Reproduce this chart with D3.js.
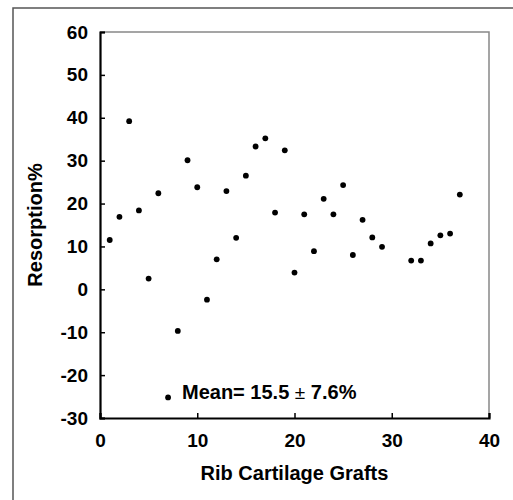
<!DOCTYPE html>
<html>
<head>
<meta charset="utf-8">
<script src="https://cdn.jsdelivr.net/npm/d3@7"></script>
<style>
  body { margin: 0; background: #fff; }
  text { font-family: "Liberation Sans", Arial, sans-serif; font-weight: bold; fill: #000; }
</style>
</head>
<body>
<div id="chart"></div>
<script>
// graft number / resorption %
const grafts = [1, 2, 3, 4, 5, 6, 7, 8, 9, 10, 11, 12, 13, 14, 15, 16, 17, 18, 19, 20,
                21, 22, 23, 24, 25, 26, 27, 28, 29, 32, 33, 34, 35, 36, 37];
const resorption = [11.5, 16.9, 39.2, 18.4, 2.5, 22.4, -25.2, -9.7, 30.1, 23.8, -2.4, 7.0, 22.9, 12.0, 26.5,
                    33.3, 35.2, 17.9, 32.4, 3.9, 17.5, 8.9, 21.1, 17.5, 24.3, 8.0, 16.2, 12.1, 9.9,
                    6.7, 6.7, 10.7, 12.6, 13.0, 22.1];
const xTicks = [0, 10, 20, 30, 40];
const yTicks = [60, 50, 40, 30, 20, 10, 0, -10, -20, -30];

const data = grafts.map((g, i) => ({x: g, y: resorption[i]}));

const width = 513, height = 500;
const margin = {top: 32, right: 24, bottom: 82, left: 100};

const svg = d3.select("#chart").append("svg")
    .attr("width", width)
    .attr("height", height);

// outer figure border (top + left only)
svg.append("path")
    .attr("d", `M13,${height}V8H${width}`)
    .style("fill", "none")
    .style("stroke", "#555")
    .style("stroke-width", 1.5);

const x = d3.scaleLinear()
    .domain([0, 40])
    .range([margin.left, width - margin.right]);

const y = d3.scaleLinear()
    .domain([-30, 60])
    .range([height - margin.bottom, margin.top]);

// top/right frame
svg.append("path")
    .attr("d", `M${x(0)},${y(60)}H${x(40)}V${y(-30)}`)
    .style("fill", "none")
    .style("stroke", "#888")
    .style("stroke-width", 1.5);

// Eixo X
const xAxis = d3.axisBottom(x).tickValues(xTicks).tickSize(-5).tickPadding(16).tickFormat(d => String(d));
const gx = svg.append("g")
    .attr("transform", `translate(0,${y(-30)})`)
    .call(xAxis);
gx.select(".domain").style("stroke-width", 2.2);
gx.selectAll(".tick line").style("stroke-width", 1.5);
gx.selectAll(".tick text").style("font-size", "19px");

// Eixo Y
const yAxis = d3.axisLeft(y).tickValues(yTicks).tickSize(-5).tickPadding(12).tickFormat(d => String(d));
const gy = svg.append("g")
    .attr("transform", `translate(${x(0)},0)`)
    .call(yAxis);
gy.select(".domain").style("stroke-width", 2.2);
gy.selectAll(".tick line").style("stroke-width", 1.5);
gy.selectAll(".tick text").style("font-size", "19px");

// labels
svg.append("text")
    .attr("x", (x(0) + x(40)) / 2)
    .attr("y", 480)
    .style("text-anchor", "middle")
    .style("font-size", "20px")
    .text("Rib Cartilage Grafts");

svg.append("text")
    .attr("transform", `translate(42,${(y(60) + y(-30)) / 2}) rotate(-90)`)
    .style("text-anchor", "middle")
    .style("font-size", "20px")
    .text("Resorption%");

const mean = svg.append("text")
    .attr("x", 182)
    .attr("y", 399)
    .style("font-size", "20px")
    .text("Mean= 15.5 ");
mean.append("tspan").style("font-weight", "normal").style("font-size", "19px").text("±");
mean.append("tspan").text(" 7.6%");

// points
svg.selectAll(".dot")
    .data(data)
    .enter().append("circle")
    .attr("class", "dot")
    .attr("cx", d => x(d.x))
    .attr("cy", d => y(d.y))
    .attr("r", 2.9)
    .style("fill", "#000");
</script>
</body>
</html>
